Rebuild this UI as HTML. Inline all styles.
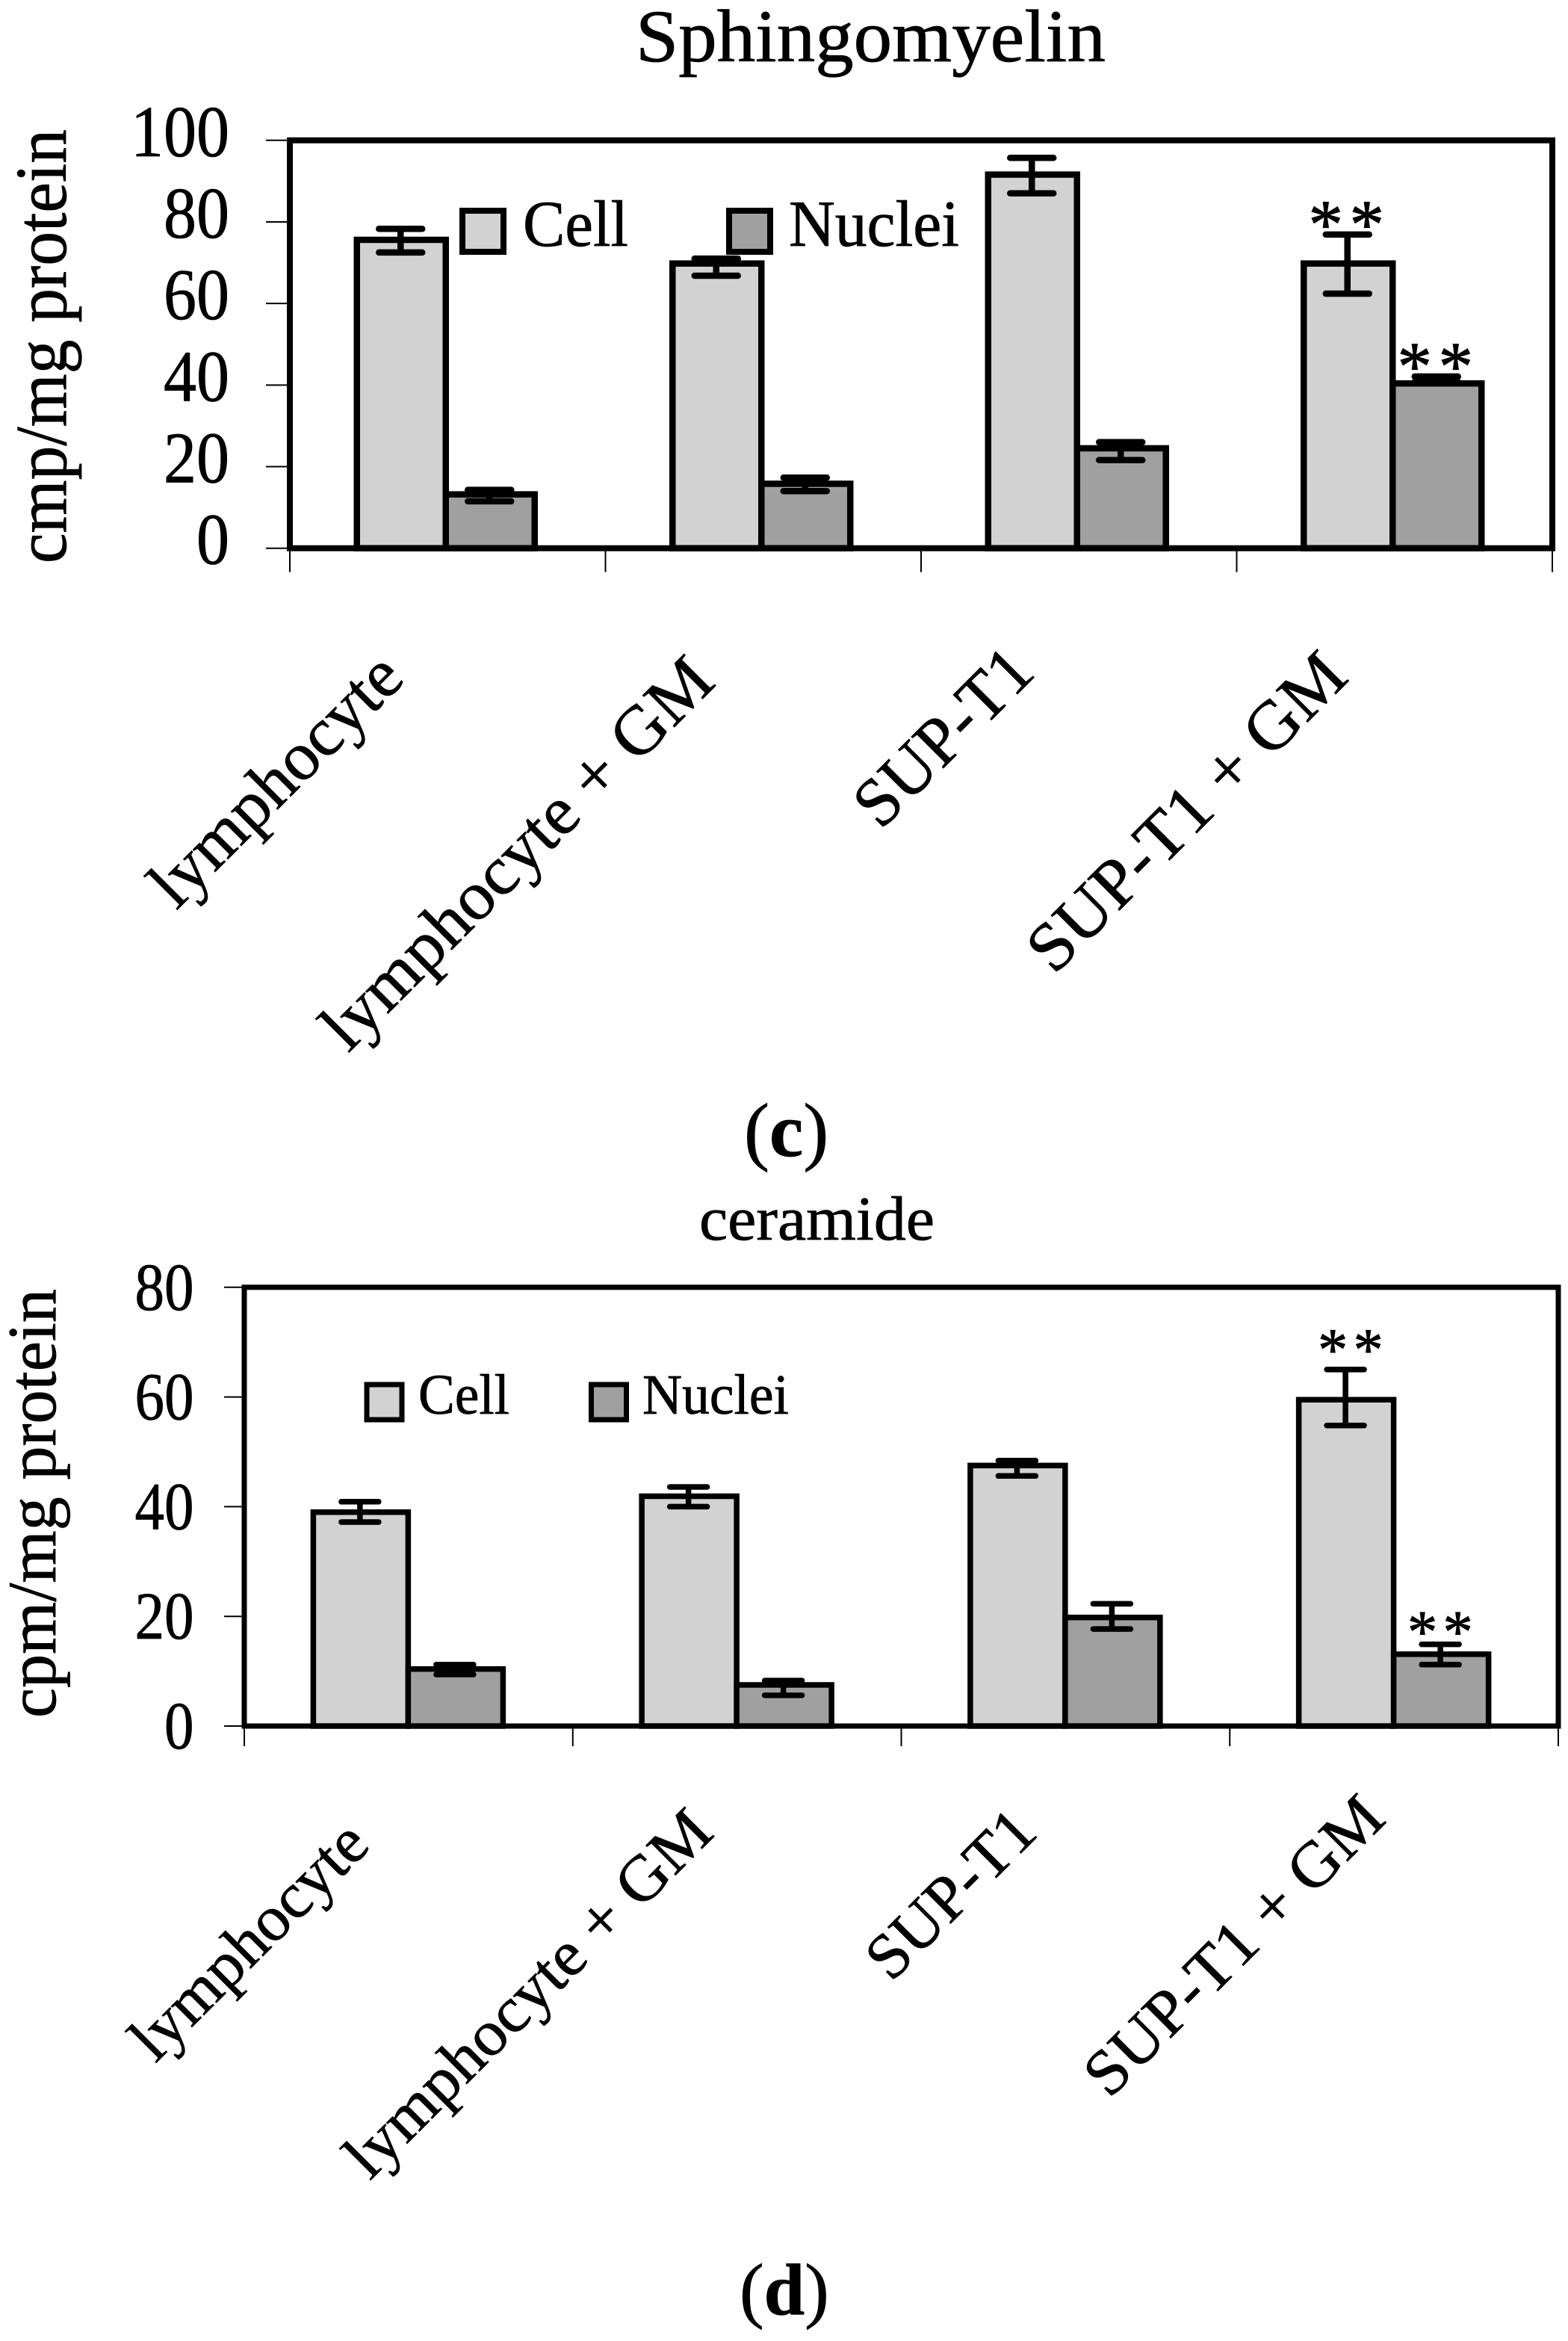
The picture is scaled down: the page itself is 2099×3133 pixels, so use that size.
<!DOCTYPE html>
<html>
<head>
<meta charset="utf-8">
<title>Sphingomyelin and ceramide</title>
<style>
html,body{margin:0;padding:0;background:#fff;}
svg{display:block;}
text{font-family:"Liberation Serif",serif;fill:#000;stroke:#000;stroke-width:0.8px;}
</style>
</head>
<body>
<svg id="fig" xmlns="http://www.w3.org/2000/svg" width="2099" height="3133" viewBox="0 0 2099 3133">
  <rect x="0" y="0" width="2099" height="3133" fill="#fff"/>

  <g id="panel-c">
    <text x="851" y="82" font-size="100" textLength="629" lengthAdjust="spacingAndGlyphs">Sphingomyelin</text>
    <text transform="translate(88,754) rotate(-90)" x="0" y="0" font-size="98" textLength="581" lengthAdjust="spacingAndGlyphs">cmp/mg protein</text>
    <text x="996" y="1547" font-size="102">(<tspan font-weight="bold">c</tspan>)</text>
  </g>
  <g id="legend-c">
    <rect x="619" y="282" width="55" height="55" fill="#d2d2d2" stroke="#000" stroke-width="8"/>
    <text x="700" y="329" font-size="88" textLength="141" lengthAdjust="spacingAndGlyphs">Cell</text>
    <rect x="976" y="282" width="55" height="55" fill="#a0a0a0" stroke="#000" stroke-width="8"/>
    <text x="1056" y="329" font-size="88" textLength="228" lengthAdjust="spacingAndGlyphs">Nuclei</text>
  </g>

  <g id="panel-d">
    <text x="936" y="1659" font-size="84" textLength="315" lengthAdjust="spacingAndGlyphs">ceramide</text>
    <text transform="translate(74,2299) rotate(-90)" x="0" y="0" font-size="92" textLength="574" lengthAdjust="spacingAndGlyphs">cpm/mg protein</text>
    <text x="990" y="3097" font-size="98">(<tspan font-weight="bold">d</tspan>)</text>
  </g>
  <g id="legend-d">
    <rect x="491" y="1853" width="47" height="47" fill="#d2d2d2" stroke="#000" stroke-width="7"/>
    <text x="560" y="1892" font-size="76" textLength="122" lengthAdjust="spacingAndGlyphs">Cell</text>
    <rect x="791.500" y="1853" width="47" height="47" fill="#a0a0a0" stroke="#000" stroke-width="7"/>
    <text x="860" y="1892" font-size="76" textLength="196" lengthAdjust="spacingAndGlyphs">Nuclei</text>
  </g>
</svg>

<script>
// Panel (c) data: Sphingomyelin
const cCategories = ["lymphocyte", "lymphocyte + GM", "SUP-T1", "SUP-T1 + GM"];
const cYTicks = [0, 20, 40, 60, 80, 100];
const cCellValues = [75.6, 69.8, 91.6, 69.8];
const cNucleiValues = [13.2, 15.8, 24.5, 40.4];
const cCellHigh = [78.3, 71.0, 95.7, 76.9];
const cCellLow = [72.5, 66.8, 87.0, 62.4];
const cNucleiHigh = [14.3, 17.3, 26.0, 42.1];
const cNucleiLow = [11.5, 14.0, 21.6, 40.8];

// Panel (d) data: ceramide
const dCategories = ["lymphocyte", "lymphocyte + GM", "SUP-T1", "SUP-T1 + GM"];
const dYTicks = [0, 20, 40, 60, 80];
const dCellValues = [39.0, 41.9, 47.5, 59.5];
const dNucleiValues = [10.4, 7.5, 19.8, 13.1];
const dCellHigh = [40.9, 43.6, 48.4, 65.0];
const dCellLow = [37.2, 40.0, 45.6, 54.8];
const dNucleiHigh = [11.2, 8.3, 22.3, 14.9];
const dNucleiLow = [9.4, 5.6, 17.7, 11.2];

const NS = "http://www.w3.org/2000/svg";

function mk(parent, tag, attrs, txt) {
  const el = document.createElementNS(NS, tag);
  for (const k in attrs) el.setAttribute(k, attrs[k]);
  if (txt !== undefined) el.textContent = txt;
  parent.appendChild(el);
  return el;
}

function drawChart(root, cfg, d) {
  const x = i => cfg.left + cfg.step * (i + 0.5) + cfg.barShift;
  const y = v => cfg.bottom - v * cfg.pxPerUnit;
  const right = cfg.left + cfg.step * d.categories.length;

  // y ticks and tick labels
  d.yTicks.forEach(function (t) {
    const tick = mk(root, "line", {x1: cfg.left - cfg.yTickLen, x2: cfg.left, y1: y(t), y2: y(t), stroke: "#000", "stroke-width": 2});
    
    
    const s = String(t);
    const label = mk(root, "text", {x: cfg.yLabelRight - s.length * cfg.digitW, y: y(t) + cfg.yLabelDy, "font-size": cfg.yFont, textLength: s.length * cfg.digitW, lengthAdjust: "spacingAndGlyphs"}, s);
    
    
  });

  // x ticks
  for (let i = 0; i <= d.categories.length; i++) {
    const tx = cfg.left + cfg.step * i;
    const tick = mk(root, "line", {x1: tx, x2: tx, y1: cfg.bottom + 3, y2: cfg.bottom + cfg.xTickLen, stroke: "#000", "stroke-width": 2});
    
    
  }

  // bars
  d.categories.forEach(function (c, i) {
    const cellBar = mk(root, "rect", {x: x(i) - cfg.barW, y: y(d.cell[i]), width: cfg.barW, height: cfg.bottom - y(d.cell[i]), fill: "#d2d2d2", stroke: "#000", "stroke-width": cfg.barStroke});
    
    
    const nucBar = mk(root, "rect", {x: x(i), y: y(d.nuclei[i]), width: cfg.barW, height: cfg.bottom - y(d.nuclei[i]), fill: "#a0a0a0", stroke: "#000", "stroke-width": cfg.barStroke});
    
    
  });

  // frame
  const frame = mk(root, "rect", {x: cfg.left, y: y(d.yTicks[d.yTicks.length - 1]), width: right - cfg.left, height: cfg.bottom - y(d.yTicks[d.yTicks.length - 1]), fill: "none", stroke: "#000", "stroke-width": cfg.frameStroke});
  
  

  // error bars
  function err(cx, hi, lo, name) {
    const g = mk(root, "g", {stroke: "#000", "stroke-width": cfg.errStroke, "stroke-linecap": "round", fill: "none"});
    
    
    mk(g, "line", {x1: cx, x2: cx, y1: y(hi), y2: y(lo), "stroke-linecap": "butt"});
    mk(g, "line", {x1: cx - cfg.capW / 2, x2: cx + cfg.capW / 2, y1: y(hi), y2: y(hi)});
    mk(g, "line", {x1: cx - cfg.capW / 2, x2: cx + cfg.capW / 2, y1: y(lo), y2: y(lo)});
  }
  d.categories.forEach(function (c, i) {
    err(x(i) - cfg.barW / 2 - 1, d.cellHigh[i], d.cellLow[i], "error-bar-cell-" + i);
    err(x(i) + cfg.barW / 2 - 1, d.nucleiHigh[i], d.nucleiLow[i], "error-bar-nuclei-" + i);
  });

  // significance stars on last group
  const last = d.categories.length - 1;
  const star1 = mk(root, "text", {x: x(last) - cfg.barW / 2 - cfg.starShiftCell, y: y(d.cellHigh[last]) + cfg.starCellDy, "font-size": cfg.starFont, "letter-spacing": cfg.starGap, style: "stroke-width:" + cfg.starBold + "px"}, "**");
  
  
  const star2 = mk(root, "text", {x: x(last) + cfg.barW / 2 - cfg.starShiftNuc, y: y(d.nucleiHigh[last]) + cfg.starNucDy, "font-size": cfg.starFont, "letter-spacing": cfg.starGap, style: "stroke-width:" + cfg.starBold + "px"}, "**");
  
  

  // rotated category labels
  d.categories.forEach(function (c, i) {
    const p = cfg.catStart[i];
    const lab = mk(root, "text", {transform: "translate(" + p[0] + "," + p[1] + ") rotate(-45)", x: 0, y: 0, "font-size": cfg.catFont, textLength: cfg.catLen[i], lengthAdjust: "spacingAndGlyphs"}, c);
    
    
  });
}

const panelC = document.getElementById("panel-c");
drawChart(panelC, {
  left: 388, step: 422.5, bottom: 733.7, pxPerUnit: 5.459, barShift: -2.5,
  yTickLen: 32, xTickLen: 32, yLabelRight: 307, digitW: 44, yFont: 98, yLabelDy: 21,
  barW: 119, barStroke: 8.5, frameStroke: 8, errStroke: 8.5, capW: 58,
  starFont: 92, starGap: 9, starBold: 1.2, starShiftCell: 53, starShiftNuc: 53, starCellDy: 17, starNucDy: 17,
  catFont: 92,
  catStart: [[236, 1219], [466, 1410], [1179, 1112], [1411, 1306]],
  catLen: [436, 699, 296, 561]
}, {
  categories: cCategories, yTicks: cYTicks, cell: cCellValues, nuclei: cNucleiValues,
  cellHigh: cCellHigh, cellLow: cCellLow, nucleiHigh: cNucleiHigh, nucleiLow: cNucleiLow
});

const panelD = document.getElementById("panel-d");
drawChart(panelD, {
  left: 327, step: 439.75, bottom: 2310, pxPerUnit: 7.34, barShift: -0.5,
  yTickLen: 27, xTickLen: 27, yLabelRight: 259.5, digitW: 39.5, yFont: 90, yLabelDy: 30,
  barW: 127, barStroke: 7.5, frameStroke: 7, errStroke: 7.5, capW: 50,
  starFont: 80, starGap: 7.5, starBold: 1, starShiftCell: 38, starShiftNuc: 45, starCellDy: 0, starNucDy: 10,
  catFont: 86,
  catStart: [[208, 2762], [495, 2919], [1193, 2654], [1485, 2810]],
  catLen: [410, 655, 281, 527]
}, {
  categories: dCategories, yTicks: dYTicks, cell: dCellValues, nuclei: dNucleiValues,
  cellHigh: dCellHigh, cellLow: dCellLow, nucleiHigh: dNucleiHigh, nucleiLow: dNucleiLow
});

// keep legends on top of the frame and bars
const figure = document.getElementById("fig");
figure.appendChild(document.getElementById("legend-c"));
figure.appendChild(document.getElementById("legend-d"));
</script>
</body>
</html>
